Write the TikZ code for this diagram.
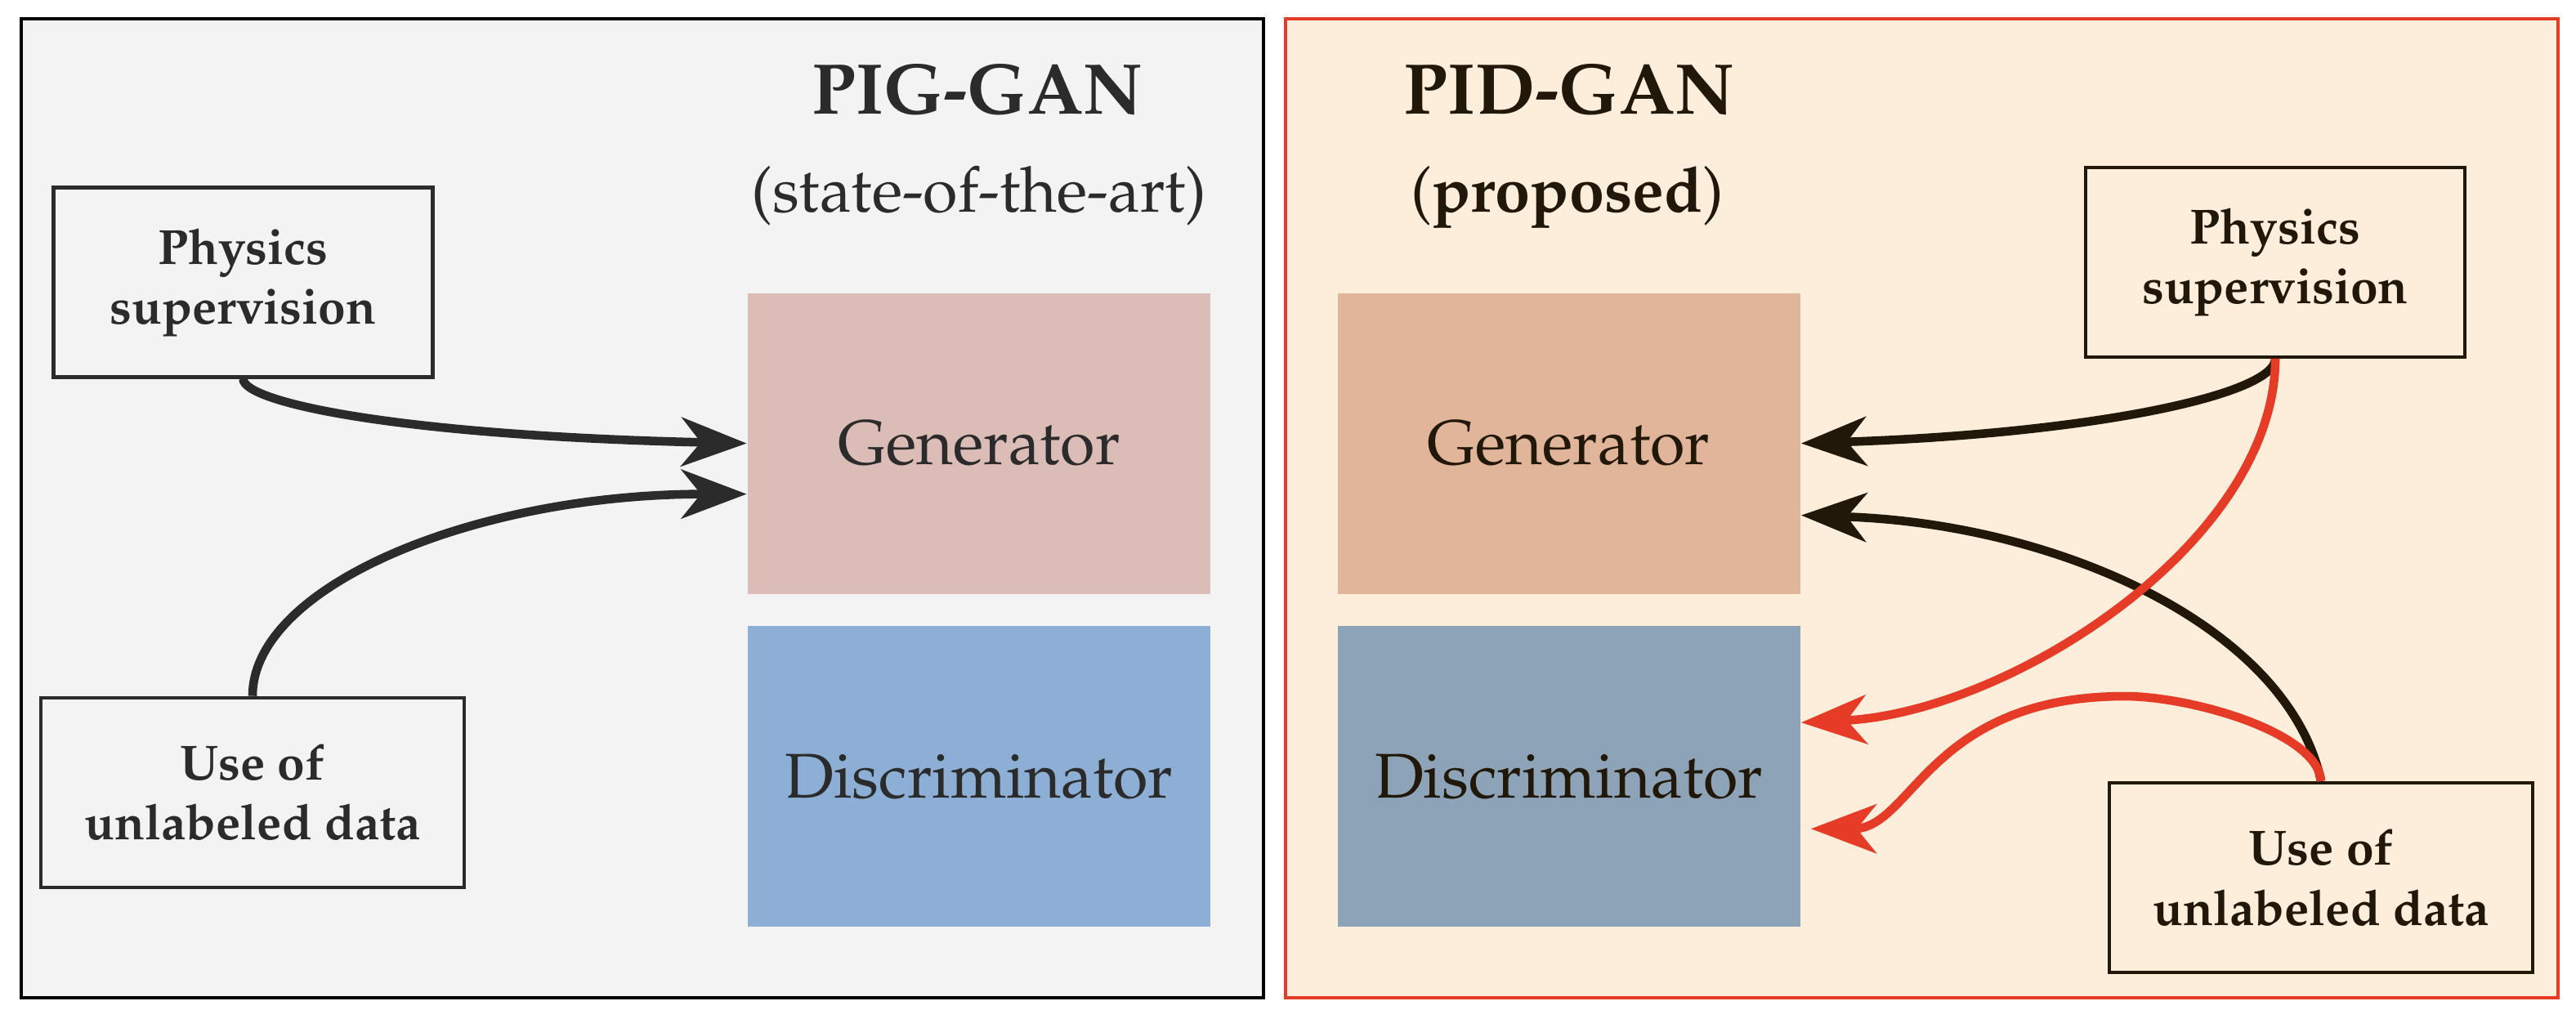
\documentclass[tikz,border=0pt]{standalone}
\usepackage[T1]{fontenc}
\usepackage{mathpazo}
\usetikzlibrary{positioning,arrows.meta}

\definecolor{ink1}{HTML}{2B2B2B}
\definecolor{ink2}{HTML}{22180A}
\definecolor{bgl}{HTML}{F3F3F3}
\definecolor{bgr}{HTML}{FCEEDB}
\definecolor{redl}{HTML}{E63B27}
\definecolor{gen1}{HTML}{DBBCB6}
\definecolor{dis1}{HTML}{8DAFD6}
\definecolor{gen2}{HTML}{E0B59A}
\definecolor{dis2}{HTML}{8DA4B8}

\begin{document}
\begin{tikzpicture}[x=0.1mm, y=-0.1mm, node distance=1.84mm,
	box/.style={draw, line width=0.6pt, minimum width=23.2mm, minimum height=11.6mm, align=center, font=\fontsize{8.6}{10.4}\selectfont\bfseries},
	block/.style={minimum width=28.3mm, minimum height=18.4mm, font=\fontsize{11}{13}\selectfont},
	title/.style={anchor=base, font=\fontsize{12.5}{15}\selectfont\bfseries},
	sub/.style={anchor=base, font=\fontsize{11}{13}\selectfont},
	arr/.style={line width=1.5pt, -{Stealth[length=4mm, width=3mm, inset=1.2mm]}}]
	\useasboundingbox (0,0) rectangle (1576,623);

	% the two panels
	\draw[black, fill=bgl, line width=0.5pt] (13,11.5) rectangle (773,610.5);
	\draw[redl, fill=bgr, line width=0.5pt] (786.5,11.5) rectangle (1565,610.5);

	% PIG-GAN
	\node[title, text=ink1] (t1) at (598,69.7) {PIG-GAN};
	\node[sub, text=ink1] (s1) at (599,129.5) {(state-of-the-art)};
	\node[block, fill=gen1, text=ink1] (g1) at (599,271.3) {Generator};
	\node[block, fill=dis1, text=ink1, below=of g1] (d1) {Discriminator};
	\node[box, draw=ink1, text=ink1] (p1) at (148.75,172.75) {Physics\\supervision};
	\node[box, draw=ink1, text=ink1, minimum width=25.9mm] (u1) at (154.5,484.9) {Use of\\unlabeled data};

	% PID-GAN
	\node[title, text=ink2] (t2) at (960,69.7) {PID-GAN};
	\node[sub, text=ink2] (s2) at (959,129.5) {(\textbf{proposed})};
	\node[block, fill=gen2, text=ink2] (g2) at (959.75,271.3) {Generator};
	\node[block, fill=dis2, text=ink2, below=of g2] (d2) {Discriminator};
	\node[box, draw=ink2, text=ink2] (p2) at (1392,160.4) {Physics\\supervision};
	\node[box, draw=ink2, text=ink2, minimum width=25.9mm] (u2) at (1420,537) {Use of\\unlabeled data};

	\draw[arr, ink1] (p1.south) .. controls +(0,14) and +(-217,-5) .. (g1.west);
	\draw[arr, ink1] (u1.north) .. controls +(0,-67) and +(-167,0) .. ([yshift=-3.1mm]g1.west);

	\draw[arr, ink2] (p2.south) .. controls +(0,22) and +(178,-6) .. (g2.east);
	\draw[arr, ink2] (u2.north) .. controls +(-20,-94) and +(158,5) .. ([yshift=-4.4mm]g2.east);
	\draw[arr, redl] (p2.south) .. controls +(0,112) and +(128,-6) .. ([yshift=3.3mm]d2.east);
	\draw[arr, redl] (u2.north) .. controls +(-2,-30) and +(40,0) .. (1300,426)
		.. controls +(-120,0) and +(62,0) .. ([xshift=0.6mm, yshift=-3.2mm]d2.east);
\end{tikzpicture}
\end{document}
